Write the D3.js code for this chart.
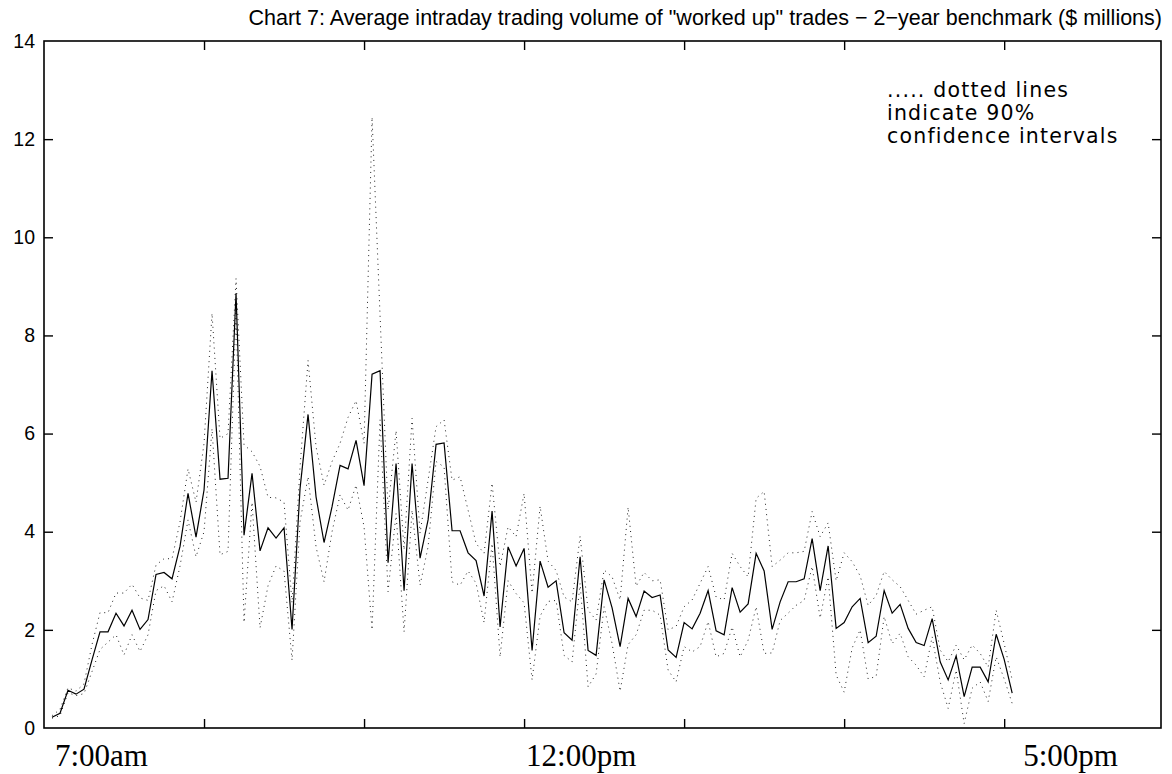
<!DOCTYPE html>
<html>
<head>
<meta charset="utf-8">
<script src="https://cdn.jsdelivr.net/npm/d3@7"></script>
<style>
  body { margin: 0; background: #fff; }
  svg { display: block; }
</style>
</head>
<body>
<svg id="chart" width="1172" height="774"></svg>
<script>
// Average volume per 5-minute slot, starting 7:05am (slot 1) through 5:05pm (slot 121)
const meanVolume = [
  0.22, 0.30, 0.77, 0.69, 0.79, 1.39, 1.96, 1.96, 2.34, 2.08,
  2.40, 2.01, 2.21, 3.13, 3.17, 3.04, 3.70, 4.78, 3.89, 4.85,
  7.28, 5.07, 5.09, 8.86, 3.93, 5.19, 3.61, 4.08, 3.87, 4.08,
  2.01, 4.88, 6.39, 4.71, 3.78, 4.51, 5.35, 5.28, 5.86, 4.94,
  7.21, 7.28, 3.37, 5.39, 2.80, 5.39, 3.46, 4.24, 5.78, 5.81,
  4.02, 4.02, 3.57, 3.41, 2.69, 4.42, 2.06, 3.69, 3.30, 3.66,
  1.58, 3.40, 2.87, 3.00, 1.94, 1.79, 3.49, 1.58, 1.48, 3.02,
  2.45, 1.66, 2.64, 2.27, 2.79, 2.66, 2.71, 1.59, 1.44, 2.15,
  2.02, 2.34, 2.80, 1.98, 1.90, 2.86, 2.36, 2.53, 3.56, 3.20,
  2.01, 2.57, 2.98, 2.98, 3.04, 3.86, 2.80, 3.71, 2.03, 2.15,
  2.47, 2.64, 1.74, 1.87, 2.80, 2.34, 2.52, 2.03, 1.74, 1.68,
  2.23, 1.35, 0.98, 1.47, 0.64, 1.24, 1.24, 0.94, 1.91, 1.40,
  0.71
];

// Upper bound of the 90% confidence interval
const upperBound = [
  0.25, 0.38, 0.82, 0.75, 0.90, 1.70, 2.35, 2.35, 2.75, 2.75,
  2.93, 2.65, 2.60, 3.32, 3.45, 3.45, 4.20, 5.28, 4.60, 5.80,
  8.45, 5.90, 6.00, 9.16, 5.77, 5.63, 5.33, 4.70, 4.69, 4.60,
  2.55, 5.32, 7.49, 5.73, 4.95, 5.43, 5.80, 6.33, 6.67, 5.80,
  12.45, 8.40, 4.44, 6.06, 3.63, 6.31, 3.97, 5.05, 6.14, 6.28,
  5.05, 5.12, 4.44, 3.76, 3.56, 4.99, 3.29, 4.10, 3.90, 4.78,
  2.75, 4.52, 3.40, 3.21, 2.67, 2.57, 3.91, 2.40, 2.20, 3.22,
  3.08, 2.61, 4.50, 2.89, 3.17, 3.00, 3.02, 2.00, 2.07, 2.47,
  2.61, 2.95, 3.29, 2.67, 2.61, 3.56, 3.29, 3.08, 4.68, 4.82,
  3.29, 3.42, 3.57, 3.57, 3.60, 4.41, 3.90, 4.18, 3.00, 3.57,
  3.39, 3.10, 2.50, 2.70, 3.19, 3.02, 2.88, 2.60, 2.32, 2.40,
  2.47, 1.59, 1.35, 1.69, 1.39, 1.69, 1.52, 1.24, 2.40, 1.72,
  0.98
];

// Lower bound of the 90% confidence interval
const lowerBound = [
  0.20, 0.25, 0.72, 0.66, 0.70, 1.15, 1.60, 1.75, 1.90, 1.49,
  1.90, 1.56, 1.90, 2.80, 2.90, 2.57, 3.30, 4.24, 3.49, 4.00,
  6.10, 3.53, 3.60, 8.50, 2.15, 4.60, 2.04, 2.90, 3.30, 3.20,
  1.38, 4.20, 5.12, 3.69, 2.98, 4.00, 4.75, 4.44, 4.95, 4.10,
  2.00, 6.28, 2.78, 4.37, 1.96, 4.44, 2.91, 3.69, 5.43, 5.32,
  2.98, 2.91, 3.20, 2.95, 2.15, 3.76, 1.45, 3.00, 2.74, 2.55,
  0.98, 2.28, 2.58, 2.60, 1.48, 1.35, 2.95, 0.84, 1.10, 2.47,
  1.72, 0.75, 1.70, 1.90, 2.40, 2.40, 2.30, 1.18, 0.94, 1.66,
  1.55, 1.66, 2.17, 1.45, 1.52, 2.06, 1.45, 1.79, 2.47, 1.52,
  1.53, 2.19, 2.34, 2.50, 2.60, 3.29, 2.24, 3.08, 1.08, 0.73,
  1.63, 2.00, 1.00, 1.05, 2.27, 1.72, 1.93, 1.45, 1.28, 1.04,
  1.86, 0.94, 0.40, 1.18, 0.09, 0.81, 0.94, 0.54, 1.45, 1.00,
  0.50
];

// Minutes after 7:00am for each slot
const slotMinutes = meanVolume.map((_, i) => (i + 1) * 5);

const yTicks = [0, 2, 4, 6, 8, 10, 12, 14];
const xTicks = [100, 200, 300, 400, 500, 600];
const timeLabels = [
  { minute: 0,   text: "7:00am",  dx: 11 },
  { minute: 300, text: "12:00pm", dx: 2 },
  { minute: 600, text: "5:00pm",  dx: 19 }
];
const titleText = "Chart 7: Average intraday trading volume of \"worked up\" trades \u2212 2\u2212year benchmark ($ millions)";
const noteLines = ["..... dotted lines", "indicate 90%", "confidence intervals"];

const svg = d3.select("#chart");
const plotLeft = 44, plotRight = 1161, plotTop = 41, plotBottom = 728;

const x = d3.scaleLinear().domain([0, 698]).range([plotLeft, plotRight]);
const y = d3.scaleLinear().domain([0, 14]).range([plotBottom, plotTop]);

const sans = "'Liberation Sans', Arial, Helvetica, sans-serif";
const serif = "'Liberation Serif', 'Times New Roman', serif";

// Confidence band edges (dotted)
const line = d3.line().x((d, i) => x(slotMinutes[i])).y(d => y(d));
const bandStyle = g => g
  .attr("fill", "none")
  .attr("stroke", "#222")
  .attr("stroke-width", 1)
  .attr("stroke-dasharray", "1 4.2");

svg.append("path").attr("d", line(upperBound)).call(bandStyle);
svg.append("path").attr("d", line(lowerBound)).call(bandStyle);

// Average volume (solid)
svg.append("path")
  .attr("d", line(meanVolume))
  .attr("fill", "none")
  .attr("stroke", "#000")
  .attr("stroke-width", 1.2)
  .attr("stroke-linejoin", "miter");

// Axes: inward ticks on all four sides
const tickLen = 9;
const styleAxis = g => {
  g.select(".domain").remove();
  g.selectAll(".tick line").attr("stroke", "#000").attr("stroke-width", 1.4);
};

svg.append("g")
  .attr("transform", `translate(0,${plotBottom})`)
  .call(d3.axisBottom(x).tickValues(xTicks).tickSizeInner(-tickLen).tickSizeOuter(0).tickFormat(""))
  .call(styleAxis);

svg.append("g")
  .attr("transform", `translate(0,${plotTop})`)
  .call(d3.axisTop(x).tickValues(xTicks).tickSizeInner(-tickLen).tickSizeOuter(0).tickFormat(""))
  .call(styleAxis);

svg.append("g")
  .attr("transform", `translate(${plotLeft},0)`)
  .call(d3.axisLeft(y).tickValues(yTicks).tickSizeInner(-tickLen).tickSizeOuter(0).tickPadding(9))
  .call(styleAxis)
  .call(g => {
    g.selectAll(".tick line").filter(d => d === 0 || d === 14).remove();
    g.selectAll(".tick text")
      .attr("fill", "#000")
      .style("font-family", sans)
      .style("font-size", "19.5px");
  });

svg.append("g")
  .attr("transform", `translate(${plotRight},0)`)
  .call(d3.axisRight(y).tickValues(yTicks.filter(d => d > 0 && d < 14)).tickSizeInner(-tickLen).tickSizeOuter(0).tickFormat(""))
  .call(styleAxis);

// Frame
svg.append("rect")
  .attr("x", plotLeft).attr("y", plotTop)
  .attr("width", plotRight - plotLeft).attr("height", plotBottom - plotTop)
  .attr("fill", "none")
  .attr("stroke", "#000")
  .attr("stroke-width", 1.6);

// Time labels under the axis
svg.append("g").selectAll("text")
  .data(timeLabels)
  .join("text")
  .attr("x", d => x(d.minute) + d.dx)
  .attr("y", 766)
  .attr("text-anchor", "start")
  .style("font-family", serif)
  .style("font-size", "31px")
  .text(d => d.text);

// Title
svg.append("text")
  .attr("x", 1162)
  .attr("y", 25)
  .attr("text-anchor", "end")
  .style("font-family", sans)
  .style("font-size", "21.5px")
  .text(titleText);

// Note about the dotted lines
svg.append("g").selectAll("text")
  .data(noteLines)
  .join("text")
  .attr("x", 887)
  .attr("y", (d, i) => 97 + i * 23)
  .style("font-family", "'DejaVu Sans', sans-serif")
  .style("font-size", "20.5px")
  .style("letter-spacing", "1.2px")
  .text(d => d);
</script>
</body>
</html>
